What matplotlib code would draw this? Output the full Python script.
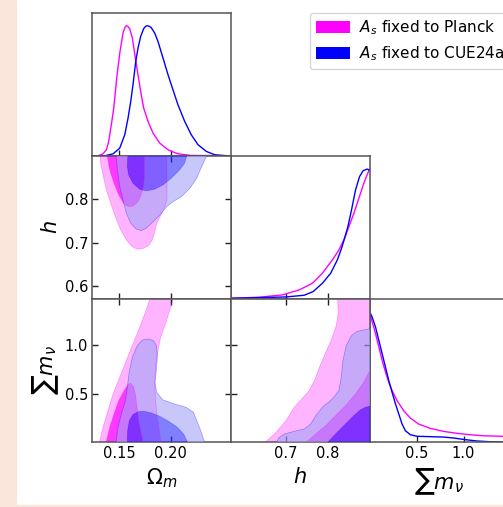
import numpy as np
import matplotlib
matplotlib.use("Agg")
import matplotlib.pyplot as plt
from matplotlib.patches import Rectangle, PathPatch, Patch
from matplotlib.path import Path

# ---------------- axis ranges / ticks ----------------
OM_LIM = (0.1237, 0.2587)
H_LIM = (0.570, 0.900)
MNU_LIM = (0.0, 1.478)
OM_TICKS = [0.15, 0.20]
OM_TICKLABELS = ["0.15", "0.20"]
H_YTICKS = [0.6, 0.7, 0.8]
H_YTICKLABELS = ["0.6", "0.7", "0.8"]
H_XTICKS = [0.7, 0.8]
H_XTICKLABELS = ["0.7", "0.8"]
MNU_TICKS = [0.5, 1.0]
MNU_TICKLABELS = ["0.5", "1.0"]

LABELS = [r"$\Omega_m$", r"$h$", r"$\sum m_\nu$"]
LEGEND_LABELS = [r"$A_s$ fixed to Planck", r"$A_s$ fixed to CUE24a"]

# ---------------- 1D marginals (normalised to peak = 1) ----------------
PINK_OM_X = [0.1237, 0.1293, 0.1341, 0.1374, 0.1397, 0.1422, 0.1446, 0.1478, 0.1507, 0.1536, 0.1555,
             0.1568, 0.1582, 0.1601, 0.1627, 0.1656, 0.1682, 0.1708, 0.1737, 0.1779, 0.1828, 0.1893,
             0.1974, 0.2071, 0.2200, 0.2587]
PINK_OM_P = [0.0, 0.0, 0.015, 0.046, 0.111, 0.238, 0.367, 0.623, 0.803, 0.944, 0.988,
             1.0, 0.995, 0.977, 0.905, 0.752, 0.623, 0.495, 0.367, 0.265, 0.175, 0.098,
             0.046, 0.015, 0.003, 0.0]
BLUE_OM_X = [0.1237, 0.1358, 0.1439, 0.1504, 0.1553, 0.1585, 0.1611, 0.1633, 0.1660, 0.1682, 0.1708,
             0.1737, 0.1755, 0.1770, 0.1790, 0.1811, 0.1844, 0.1876, 0.1925, 0.1974, 0.2022, 0.2071,
             0.2136, 0.2200, 0.2266, 0.2346, 0.2428, 0.2557, 0.2587]
BLUE_OM_P = [0.0, 0.0, 0.015, 0.059, 0.162, 0.29, 0.418, 0.546, 0.726, 0.828, 0.918,
             0.977, 0.995, 1.0, 0.996, 0.985, 0.944, 0.88, 0.752, 0.623, 0.508, 0.392,
             0.265, 0.162, 0.085, 0.034, 0.008, 0.0, 0.0]

PINK_H_X = [0.5707, 0.6377, 0.6928, 0.7322, 0.7638, 0.7874, 0.8110, 0.8268, 0.8402, 0.8504,
            0.8623, 0.8741, 0.8859, 0.8993]
PINK_H_P = [0.005, 0.013, 0.031, 0.069, 0.120, 0.197, 0.299, 0.376, 0.466, 0.555,
            0.657, 0.773, 0.888, 0.998]
BLUE_H_X = [0.5707, 0.6377, 0.7007, 0.7441, 0.7653, 0.7874, 0.8071, 0.8229, 0.8331, 0.8402,
            0.8481, 0.8567, 0.8662, 0.8757, 0.8843, 0.8938, 0.8993]
BLUE_H_P = [0.005, 0.010, 0.015, 0.028, 0.056, 0.120, 0.197, 0.299, 0.389, 0.466,
            0.555, 0.683, 0.836, 0.939, 0.985, 0.998, 0.990]

PINK_MNU_X = [0.0, 0.0282, 0.0634, 0.0986, 0.1339, 0.169, 0.204, 0.239, 0.292, 0.363, 0.433,
              0.521, 0.645, 0.785, 0.926, 1.068, 1.208, 1.409, 1.478]
PINK_MNU_P = [0.99, 0.919, 0.829, 0.727, 0.624, 0.535, 0.458, 0.394, 0.317, 0.24, 0.184,
              0.138, 0.105, 0.082, 0.067, 0.056, 0.048, 0.044, 0.042]
BLUE_MNU_X = [0.0, 0.0282, 0.0634, 0.0986, 0.1339, 0.169, 0.204, 0.239, 0.275, 0.31, 0.345,
              0.38, 0.433, 0.503, 0.645, 0.785, 0.891, 0.997, 1.138, 1.279, 1.409, 1.478]
BLUE_MNU_P = [1.0, 0.957, 0.880, 0.777, 0.675, 0.573, 0.470, 0.381, 0.292, 0.215, 0.138,
              0.087, 0.056, 0.044, 0.041, 0.038, 0.031, 0.020, 0.008, 0.002, 0.0, 0.0]

# ---------------- 2D contours (95% outer, 68% inner) ----------------
# Omega_m vs h
PINK95_OM_H = [(0.1309, 0.91), (0.1964, 0.91), (0.1964, 0.7976), (0.1928, 0.7746), (0.1896, 0.7592),
               (0.1863, 0.7438), (0.1841, 0.7207), (0.1821, 0.7061), (0.1786, 0.6930), (0.1730, 0.6861),
               (0.1675, 0.6846), (0.1624, 0.6907), (0.1568, 0.7061), (0.1513, 0.7292), (0.1461, 0.7599),
               (0.1416, 0.7907), (0.1374, 0.8215), (0.1345, 0.8522), (0.1319, 0.8830)]
PINK68_OM_H = [(0.1374, 0.91), (0.1744, 0.91), (0.1744, 0.8514), (0.1734, 0.8284), (0.1711, 0.8092),
               (0.1679, 0.7938), (0.1637, 0.7845), (0.1598, 0.7830), (0.1562, 0.7860), (0.1536, 0.7922),
               (0.1494, 0.8099), (0.1448, 0.8368), (0.1406, 0.8676)]
BLUE95_OM_H = [(0.1471, 0.92), (0.2355, 0.92), (0.2350, 0.90), (0.2302, 0.8752), (0.2253, 0.8484),
               (0.2188, 0.8254), (0.2107, 0.8060), (0.2025, 0.7945), (0.1961, 0.7829), (0.1896, 0.7638),
               (0.1830, 0.7480), (0.1763, 0.7330), (0.1714, 0.7276), (0.1666, 0.7307), (0.1611, 0.7446),
               (0.1568, 0.7676), (0.1536, 0.7984), (0.1504, 0.8291), (0.1481, 0.8676), (0.1471, 0.90)]
BLUE68_OM_H = [(0.1585, 0.91), (0.2168, 0.91), (0.2136, 0.8830), (0.2087, 0.8676), (0.2006, 0.8484),
               (0.1925, 0.8330), (0.1844, 0.8230), (0.1763, 0.8191), (0.1698, 0.8230), (0.1633, 0.8368),
               (0.1591, 0.8561), (0.1578, 0.8753)]

# Omega_m vs sum m_nu
PINK95_OM_MNU = [(0.1303, -0.02), (0.1341, 0.1515), (0.1390, 0.3237), (0.1439, 0.4959), (0.1504, 0.6680),
                 (0.1568, 0.8402), (0.1633, 1.0124), (0.1698, 1.1846), (0.1747, 1.3223), (0.1795, 1.4703),
                 (0.1800, 1.52), (0.2025, 1.52), (0.2022, 1.4703), (0.1990, 1.3567), (0.1948, 1.2190),
                 (0.1902, 1.0812), (0.1876, 0.9435), (0.1855, 0.8058), (0.1845, 0.6336), (0.1850, 0.4614),
                 (0.1865, 0.2893), (0.1885, 0.1515), (0.1905, -0.02)]
PINK68_OM_MNU = [(0.1368, -0.02), (0.1406, 0.1515), (0.1448, 0.2893), (0.1494, 0.4270), (0.1546, 0.5303),
                 (0.1585, 0.5923), (0.1611, 0.6060), (0.1637, 0.5716), (0.1656, 0.4959), (0.1672, 0.3581),
                 (0.1688, 0.2204), (0.1714, 0.0826), (0.1735, -0.02)]
BLUE95_OM_MNU = [(0.1466, -0.03), (0.1487, 0.1515), (0.1520, 0.2893), (0.1559, 0.4270), (0.1578, 0.5647),
                 (0.1598, 0.7369), (0.1627, 0.8746), (0.1675, 0.9952), (0.1724, 1.0537), (0.1785, 1.0640),
                 (0.1832, 1.0468), (0.1862, 0.9952), (0.1870, 0.8746), (0.1860, 0.7369), (0.1847, 0.6164),
                 (0.1864, 0.5131), (0.1925, 0.4339), (0.2039, 0.3926), (0.2150, 0.3581), (0.2222, 0.3065),
                 (0.2260, 0.2032), (0.2297, 0.1033), (0.2340, -0.03)]
BLUE68_OM_MNU = [(0.1578, -0.02), (0.1581, 0.1171), (0.1598, 0.2204), (0.1633, 0.2824), (0.1682, 0.3134),
                 (0.1740, 0.3168), (0.1812, 0.2996), (0.1893, 0.2652), (0.1980, 0.2135), (0.2065, 0.1515),
                 (0.2126, 0.0826), (0.2172, -0.02)]

# h vs sum m_nu
PINK95_H_MNU = [(0.6470, -0.02), (0.6771, 0.0998), (0.7007, 0.2204), (0.7204, 0.3581), (0.7362, 0.4339),
                (0.7559, 0.5303), (0.7701, 0.6508), (0.7819, 0.7885), (0.7937, 0.9091), (0.8095, 1.0640),
                (0.8205, 1.2018), (0.8252, 1.3395), (0.8237, 1.4703), (0.8235, 1.52), (0.91, 1.52),
                (0.91, -0.02)]
PINK68_H_MNU = [(0.7440, -0.02), (0.7716, 0.0826), (0.7953, 0.1687), (0.8189, 0.2720), (0.8425, 0.3753),
                (0.8662, 0.4959), (0.8859, 0.6164), (0.8993, 0.7266), (0.91, 0.74), (0.91, -0.02)]
BLUE95_H_MNU = [(0.6760, -0.03), (0.6834, 0.0413), (0.6968, 0.0826), (0.7204, 0.1102), (0.7441, 0.1343),
                (0.7598, 0.1859), (0.7716, 0.2720), (0.7874, 0.3581), (0.8110, 0.4442), (0.8268, 0.5303),
                (0.8323, 0.6680), (0.8363, 0.8402), (0.8441, 0.9952), (0.8567, 1.0985), (0.8703, 1.1432),
                (0.8859, 1.1570), (0.8993, 1.1673), (0.92, 1.17), (0.92, -0.03)]
BLUE68_H_MNU = [(0.7970, -0.02), (0.8189, 0.0826), (0.8425, 0.1859), (0.8623, 0.2720), (0.8780, 0.3306),
                (0.8898, 0.3581), (0.8993, 0.3684), (0.91, 0.37), (0.91, -0.02)]

# ---------------- styles ----------------
PINK_LINE = "#FF00FF"
BLUE_LINE = "#0000FF"
PINK_OUT = (1.0, 0.706, 1.0)
PINK_IN = (1.0, 0.22, 1.0)
BLUE_OUT = (0.64, 0.64, 0.97)
BLUE_IN = (0.17, 0.17, 1.0)
BLUE_ALPHA = 0.6
SPINE = "#555555"
PEACH = "#FAE6DA"

W, H = 503, 507
fig = plt.figure(figsize=(W / 100, H / 100), dpi=100)
fig.patch.set_facecolor("white")
fig.patches.append(Rectangle((0, 0), 16 / W, 1, transform=fig.transFigure, color=PEACH, zorder=-10))
fig.patches.append(Rectangle((0, 0), 1, 2.5 / H, transform=fig.transFigure, color=PEACH, zorder=-10))

COL_LEFT = [92.3, 231.0, 369.7]
ROW_TOP = [12.7, 155.8, 298.9]
PW, PH = 138.7, 143.1


def make_ax(c, r):
    return fig.add_axes([COL_LEFT[c] / W, 1 - (ROW_TOP[r] + PH) / H, PW / W, PH / H])


def style(ax, twod):
    for s in ax.spines.values():
        s.set_color(SPINE)
        s.set_linewidth(1.1)
    if twod:
        ax.tick_params(direction="in", top=True, right=True, length=4, width=1.0,
                       color="#222222", labelsize=10.5, pad=3)
    else:
        ax.tick_params(direction="in", top=False, right=False, left=False, length=4, width=1.0,
                       color="#222222", labelsize=10.5, pad=3)
        ax.set_yticks([])


def signed_area(pts):
    p = np.asarray(pts)
    x, y = p[:, 0], p[:, 1]
    return 0.5 * np.sum(x * np.roll(y, -1) - np.roll(x, -1) * y)


def fill2d(ax, pink95, pink68, blue95, blue68):
    ax.fill(*zip(*pink95), color=PINK_OUT, lw=0, zorder=1)
    ax.fill(*zip(*pink68), color=PINK_IN, lw=0, zorder=2)
    outer = list(blue95)
    inner = list(blue68)
    if np.sign(signed_area(outer)) == np.sign(signed_area(inner)):
        inner = inner[::-1]
    verts = outer + [outer[0]] + inner + [inner[0]]
    codes = ([Path.MOVETO] + [Path.LINETO] * (len(outer) - 1) + [Path.CLOSEPOLY]
             + [Path.MOVETO] + [Path.LINETO] * (len(inner) - 1) + [Path.CLOSEPOLY])
    ax.add_patch(PathPatch(Path(verts, codes), facecolor=BLUE_OUT, edgecolor="none",
                           alpha=BLUE_ALPHA, zorder=3))
    ax.fill(*zip(*blue68), color=BLUE_IN, alpha=BLUE_ALPHA, lw=0, zorder=4)
    for poly, col in [(pink95, PINK_LINE), (pink68, PINK_LINE), (blue95, BLUE_LINE), (blue68, BLUE_LINE)]:
        ax.fill(*zip(*poly), facecolor="none", edgecolor=col, lw=0.5, alpha=0.35, zorder=5)


# ---- diagonal 1D panels ----
ax00 = make_ax(0, 0)
ax00.plot(PINK_OM_X, PINK_OM_P, color=PINK_LINE, lw=1.0)
ax00.plot(BLUE_OM_X, BLUE_OM_P, color=BLUE_LINE, lw=1.0)
ax00.set_xlim(*OM_LIM)
ax00.set_ylim(0, 1.1)
style(ax00, False)
ax00.set_xticks(OM_TICKS)
ax00.set_xticklabels([])

ax11 = make_ax(1, 1)
ax11.plot(PINK_H_X, PINK_H_P, color=PINK_LINE, lw=1.0, clip_on=False)
ax11.plot(BLUE_H_X, BLUE_H_P, color=BLUE_LINE, lw=1.0, clip_on=False)
ax11.set_xlim(*H_LIM)
ax11.set_ylim(0, 1.1)
style(ax11, False)
ax11.set_xticks(H_XTICKS)
ax11.set_xticklabels([])

ax22 = make_ax(2, 2)
ax22.plot(PINK_MNU_X, PINK_MNU_P, color=PINK_LINE, lw=1.0)
ax22.plot(BLUE_MNU_X, BLUE_MNU_P, color=BLUE_LINE, lw=1.0)
ax22.set_xlim(*MNU_LIM)
ax22.set_ylim(0, 1.1)
style(ax22, False)
ax22.set_xticks(MNU_TICKS)
ax22.set_xticklabels(MNU_TICKLABELS)
ax22.set_xlabel(LABELS[2], fontsize=15, labelpad=4)

# ---- 2D panels ----
ax10 = make_ax(0, 1)
fill2d(ax10, PINK95_OM_H, PINK68_OM_H, BLUE95_OM_H, BLUE68_OM_H)
ax10.set_xlim(*OM_LIM)
ax10.set_ylim(*H_LIM)
style(ax10, True)
ax10.set_xticks(OM_TICKS)
ax10.set_xticklabels([])
ax10.set_yticks(H_YTICKS)
ax10.set_yticklabels(H_YTICKLABELS)
ax10.set_ylabel(LABELS[1], fontsize=15, labelpad=2.5)

ax20 = make_ax(0, 2)
fill2d(ax20, PINK95_OM_MNU, PINK68_OM_MNU, BLUE95_OM_MNU, BLUE68_OM_MNU)
ax20.set_xlim(*OM_LIM)
ax20.set_ylim(*MNU_LIM)
style(ax20, True)
ax20.set_xticks(OM_TICKS)
ax20.set_xticklabels(OM_TICKLABELS)
ax20.set_yticks(MNU_TICKS)
ax20.set_yticklabels(MNU_TICKLABELS)
ax20.set_xlabel(LABELS[0], fontsize=15, labelpad=4)
ax20.set_ylabel(LABELS[2], fontsize=15, labelpad=2.5)

ax21 = make_ax(1, 2)
fill2d(ax21, PINK95_H_MNU, PINK68_H_MNU, BLUE95_H_MNU, BLUE68_H_MNU)
ax21.set_xlim(*H_LIM)
ax21.set_ylim(*MNU_LIM)
style(ax21, True)
ax21.set_xticks(H_XTICKS)
ax21.set_xticklabels(H_XTICKLABELS)
ax21.set_yticks(MNU_TICKS)
ax21.set_yticklabels([])
ax21.set_xlabel(LABELS[1], fontsize=15, labelpad=4)

fig.align_ylabels([ax10, ax20])
fig.align_xlabels([ax20, ax21, ax22])

handles = [Patch(facecolor=PINK_LINE, edgecolor="none"), Patch(facecolor=BLUE_LINE, edgecolor="none")]
fig.legend(handles, LEGEND_LABELS, loc="upper left", bbox_to_anchor=(310 / W, 1 - 12.5 / H),
           fontsize=11, frameon=True, handlelength=2.2, handleheight=0.8, borderpad=0.4,
           labelspacing=0.45, handletextpad=0.6, borderaxespad=0)

fig.savefig("out.png", dpi=100)
